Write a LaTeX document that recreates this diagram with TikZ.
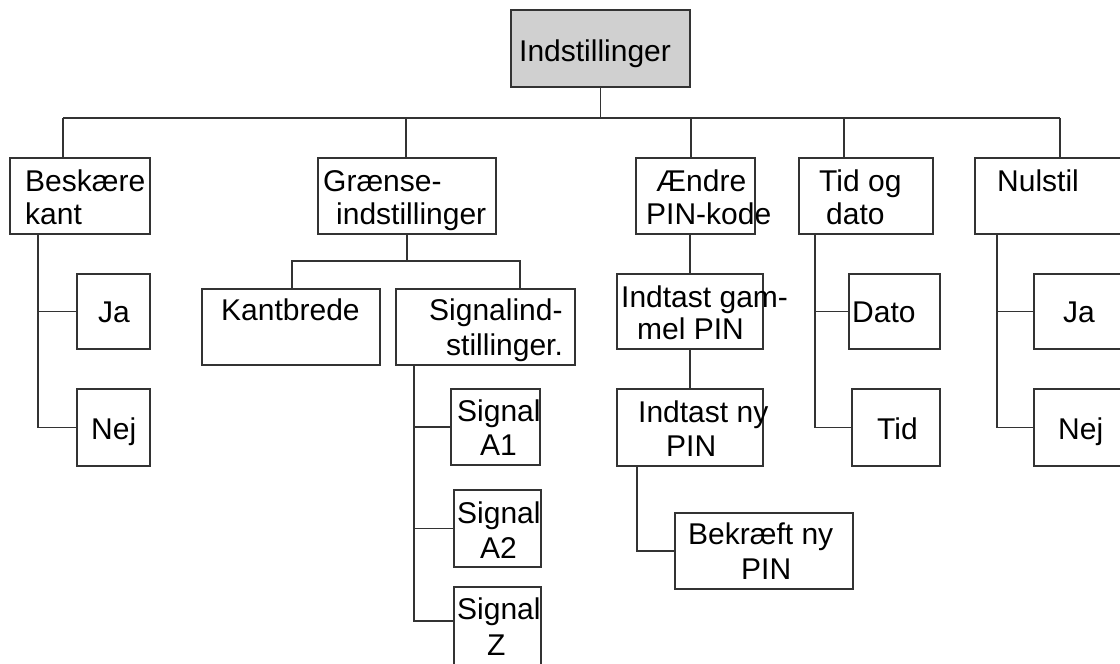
\documentclass[tikz,border=0pt]{standalone}
\usepackage{fontspec}
\setmainfont{Liberation Sans}
\definecolor{lc}{HTML}{333333}
\definecolor{rootfill}{HTML}{D0D0D0}
\newcommand\bx[6][]{\node[box,#1,minimum width=#5pt,minimum height=#6pt] (#2) at (#3,#4) {};}
\newcommand\lb[4]{\node[lbl] (#1) at (#2,#3) {#4};}
\begin{document}
\begin{tikzpicture}[x=1pt,y=-1pt,
  box/.style={draw=lc,line width=1.2pt,fill=white,inner sep=0pt,outer sep=0pt,anchor=north west},
  lbl/.style={inner sep=0pt,anchor=base west,font=\fontsize{30}{36}\selectfont,text=black},
  conn/.style={draw=lc,line width=1.2pt}]
\useasboundingbox (0,0) rectangle (1120,664);
\clip (0,0) rectangle (1120,664);
% boxes
\bx[fill=rootfill]{root}{511}{10}{179}{77}
\bx{be}{10}{158}{140}{76}
\bx{gr}{318}{158}{178}{76}
\bx{ae}{636}{158}{119}{76}
\bx{td}{799}{158}{134}{76}
\bx{nu}{975}{158}{170}{76}
\bx{jaA}{77}{274}{73}{75}
\bx{nejA}{77}{389}{73}{77}
\bx{kb}{202}{289}{178}{76}
\bx{si}{396}{289}{179}{76}
\bx{sa}{451}{389}{89}{76}
\bx{sb}{454}{490}{87}{77}
\bx{sz}{454}{587}{87}{90}
\bx{ig}{617}{274}{146}{75}
\bx{ip}{617}{389}{146}{77}
\bx{bk}{675}{513}{178}{76}
\bx{da}{849}{274}{91}{75}
\bx{ti}{852}{389}{88}{77}
\bx{jaB}{1034}{274}{110}{75}
\bx{nejB}{1034}{389}{110}{77}
% connectors
\coordinate (busy) at (0,118);
\coordinate (d1) at (63,118);
\coordinate (d2) at (406,118);
\coordinate (d3) at (691,118);
\coordinate (d4) at (844,118);
\coordinate (d5) at (1060,118);
\draw[conn] (root.south) -- (root.south |- busy);
\draw[conn] (d1) -- (d5);
\draw[conn] (d1) -- (d1 |- be.north);
\draw[conn] (d2) -- (d2 |- gr.north);
\draw[conn] (d3) -- (d3 |- ae.north);
\draw[conn] (d4) -- (d4 |- td.north);
\draw[conn] (d5) -- (d5 |- nu.north);
% Beskaere
\coordinate (s1) at (38,0);
\draw[conn] (s1 |- be.south) |- (nejA.west);
\draw[conn] (s1 |- jaA.west) -- (jaA.west);
% Graense
\coordinate (g0) at (407,261);
\coordinate (g1) at (292,261);
\coordinate (g2) at (520,261);
\draw[conn] (g0 |- gr.south) -- (g0);
\draw[conn] (g1 |- kb.north) -- (g1) -- (g2) -- (g2 |- si.north);
% Signal
\coordinate (s2) at (414,0);
\coordinate (zb) at (454,621);
\draw[conn] (s2 |- si.south) |- (zb);
\draw[conn] (s2 |- sa.west) -- (sa.west);
\draw[conn] (s2 |- sb.west) -- (sb.west);
% Aendre
\coordinate (e0) at (690,0);
\coordinate (e1) at (637,0);
\draw[conn] (e0 |- ae.south) -- (ig.north);
\draw[conn] (ig.south) -- (ip.north);
\draw[conn] (e1 |- ip.south) |- (bk.west);
% Tid
\coordinate (t0) at (815,0);
\draw[conn] (t0 |- td.south) |- (ti.west);
\draw[conn] (t0 |- da.west) -- (da.west);
% Nulstil
\coordinate (n0) at (997,0);
\draw[conn] (n0 |- nu.south) |- (nejB.west);
\draw[conn] (n0 |- jaB.west) -- (jaB.west);
% labels
\lb{t01}{519}{61}{Indstillinger}
\lb{t02}{25}{191}{Beskære}
\lb{t03}{25}{224}{kant}
\lb{t04}{323}{191}{Grænse-}
\lb{t05}{336}{224}{indstillinger}
\lb{t06}{656}{191}{Ændre}
\lb{t07}{646}{224}{PIN-kode}
\lb{t08}{819}{191}{Tid og}
\lb{t09}{826}{224}{dato}
\lb{t10}{997}{191}{Nulstil}
\lb{t11}{98}{322}{Ja}
\lb{t12}{91}{439}{Nej}
\lb{t13}{221}{320}{Kantbrede}
\lb{t14}{429}{320}{Signalind-}
\lb{t15}{446}{355}{stillinger.}
\lb{t16}{457}{421}{Signal}
\lb{t17}{480}{455}{A1}
\lb{t18}{457}{523}{Signal}
\lb{t19}{480}{558}{A2}
\lb{t20}{457}{619}{Signal}
\lb{t21}{487}{655}{Z}
\lb{t22}{621}{307}{Indtast gam-}
\lb{t23}{637}{339}{mel PIN}
\lb{t24}{638}{422}{Indtast ny}
\lb{t25}{666}{456}{PIN}
\lb{t26}{688}{544}{Bekræft ny}
\lb{t27}{741}{579}{PIN}
\lb{t28}{852}{322}{Dato}
\lb{t29}{877}{439}{Tid}
\lb{t30}{1063}{322}{Ja}
\lb{t31}{1058}{439}{Nej}
\end{tikzpicture}
\end{document}
